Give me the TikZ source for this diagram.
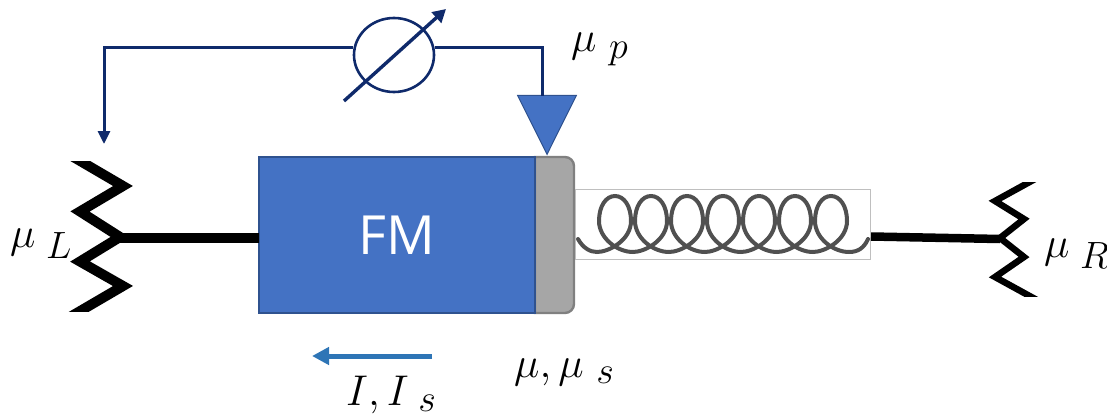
\documentclass[tikz,border=0pt]{standalone}
\usepackage{fix-cm}
\usepackage{fontspec}
\usetikzlibrary{shapes.geometric,arrows.meta}
\newfontfamily\labelsans{Open Sans}
\DeclareMathSizes{43}{43}{38}{24}
\definecolor{fmblue}{HTML}{4472C4}
\definecolor{fmedge}{HTML}{2F528F}
\definecolor{navy}{HTML}{0F2A6B}
\definecolor{flow}{HTML}{2E75B6}
\definecolor{capgray}{HTML}{A6A6A6}
\definecolor{capedge}{HTML}{808080}
\definecolor{coil}{HTML}{505050}
\tikzset{
  wire/.style={draw=navy,line width=3pt},
  zig/.style={draw=black,miter limit=10,line join=miter},
  rod/.style={draw=black},
  sym/.style={inner sep=0pt,anchor=base west,font=\fontsize{43}{50}\selectfont},
}
\begin{document}
\begin{tikzpicture}[x=1pt,y=-1pt]
\useasboundingbox (0,0) rectangle (1107,417);
% body
\path[fill=capgray,draw=capedge,line width=2.4pt]
  (535,157) [rounded corners=9pt] -- (574,157) -- (574,313) [sharp corners] -- (535,313) -- cycle;
\node[name=fm,draw=fmedge,fill=fmblue,line width=2pt,outer sep=0pt,minimum width=276pt,minimum height=156pt,
      inner sep=0pt,anchor=north west,text=white,font=\labelsans\fontsize{54}{60}\selectfont] at (259,157) {FM};
% spring
\node[name=coilbox,draw=black!25,line width=1pt,fill=white,minimum width=295pt,minimum height=70pt,
      inner sep=0pt,anchor=north west] at (575,189) {};
\draw[coil,line width=4pt,line cap=round]
  (578,239) .. controls (583,248) and (590,252) .. (597,252)
  \foreach \k in {0,...,6}{
   \pgfextra{\pgfmathsetmacro{\t}{615+36*\k}}
   .. controls (\t-6,252) and (\t+16,240) .. (\t+16,221)
   .. controls (\t+16,206) and (\t+9,196) .. (\t,196)
   .. controls (\t-9,196) and (\t-16,206) .. (\t-16,221)
   .. controls (\t-16,238) and (\t+2,252) .. (\t+18,252)
  }
  .. controls (858,252) and (864,248) .. (868,239);
% contacts
\begin{scope}
\clip (60,161) rectangle (140,311);
\draw[zig,line width=10pt] (70,155) -- (123,186) -- (80,211.5) -- (120,237) -- (80,261.5) -- (123,286) -- (70,317);
\end{scope}
\begin{scope}
\clip (970,182) rectangle (1040,296);
\draw[zig,line width=6.5pt] (1046,173) -- (995,201) -- (1024,219) -- (1000,238) -- (1024,257) -- (995,277) -- (1046,305);
\end{scope}
\coordinate (leftc) at (120,238);
\coordinate (rightc) at (1000,239);
\draw[rod,line width=10pt] (leftc) -- (fm.west |- leftc);
\draw[rod,line width=8.5pt] (coilbox.east |- 0,236.5) -- (rightc);
% probe
\node[name=probe,isosceles triangle,isosceles triangle apex angle=53,shape border rotate=-90,
      draw=fmedge,fill=fmblue,line width=1pt,inner sep=0pt,minimum height=59pt,anchor=apex] at (547,155.5) {};
% meter circuit
\node[name=meter,ellipse,draw=navy,line width=2.6pt,minimum width=80pt,minimum height=74pt,inner sep=0pt] at (394,55) {};
\coordinate (tip) at (104,144);
\coordinate (probein) at (542,96);
\draw[wire,-{Triangle[length=13pt,width=12pt]}] (meter.170) -| (tip);
\draw[wire] (meter.10) -| (probein);
\coordinate (needlea) at (344,101);
\coordinate (needleb) at (446,9);
\draw[draw=navy,line width=3.4pt,-{Triangle[length=13pt,width=14pt]}] (needlea) -- (needleb);
% current arrow
\coordinate (flowa) at (432,356);
\coordinate (flowb) at (312,356);
\draw[draw=flow,line width=5pt,-{Triangle[length=17pt,width=17pt]}] (flowa) -- (flowb);
% labels
\node[sym,name=lbL] at (10,247) {$\mu_{\mkern5mu L}$};
\node[sym,name=lbR] at (1044,257) {$\mu_{\mkern5mu R}$};
\node[sym,name=lbP] at (571,52) {$\mu_{\mkern6mu p}$};
\node[sym,name=lbS] at (514,377) {$\mu,\mu_{\mkern6mu s}$};
\node[sym,name=lbI] at (346,405) {$I,I_{\mkern6mu s}$};
\end{tikzpicture}
\end{document}
